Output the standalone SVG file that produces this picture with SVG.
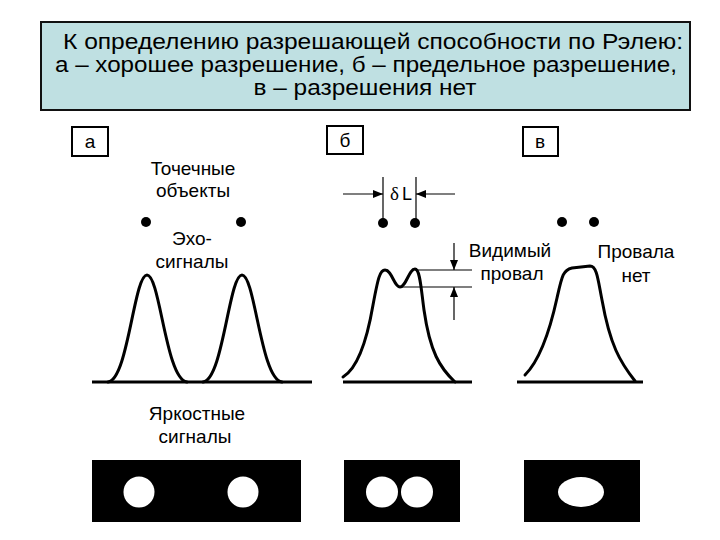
<svg xmlns="http://www.w3.org/2000/svg" width="720" height="540" viewBox="0 0 720 540">
<style>
  text { font-family: "Liberation Sans", Arial, sans-serif; fill: #000; }
  .title { font-size: 22px; text-anchor: middle; }
  .lbl { font-size: 19px; text-anchor: middle; }
  .box { fill: #fff; stroke: #000; stroke-width: 2; }
  .curve { fill: none; stroke: #000; stroke-width: 3; stroke-linejoin: round; stroke-linecap: round; }
  .base { stroke: #000; stroke-width: 3; }
  .thin { stroke: #000; stroke-width: 1.2; fill: none; }
  .dot { fill: #000; }
  .screen { fill: #000; }
  .spot { fill: #fff; }
</style>
<defs>
  <marker id="arr" markerUnits="userSpaceOnUse" markerWidth="10" markerHeight="8" refX="10" refY="4" orient="auto">
    <path d="M0,0 L10,4 L0,8 z" fill="#000"/>
  </marker>
</defs>
<rect width="720" height="540" fill="#fff"/>

<g id="title">
  <rect x="41" y="22" width="649" height="88" fill="#bfe0e2" stroke="#111" stroke-width="2"/>
  <text class="title" x="373" y="49" textLength="620" lengthAdjust="spacingAndGlyphs">К определению разрешающей способности по Рэлею:</text>
  <text class="title" x="366" y="72" textLength="622" lengthAdjust="spacingAndGlyphs">а – хорошее разрешение, б – предельное разрешение,</text>
  <text class="title" x="365" y="95" textLength="223" lengthAdjust="spacingAndGlyphs">в – разрешения нет</text>
</g>

<g id="label-a">
  <rect class="box" x="72" y="127" width="36" height="29"/>
  <text class="lbl" x="90" y="148">а</text>
</g>
<g id="label-b">
  <rect class="box" x="327" y="126" width="36" height="28"/>
  <text class="lbl" x="345" y="147">б</text>
</g>
<g id="label-v">
  <rect class="box" x="523" y="127" width="35" height="29"/>
  <text class="lbl" x="540" y="148">в</text>
</g>

<g id="panel-a">
  <text class="lbl" x="193" y="175">Точечные</text>
  <text class="lbl" x="193" y="197">объекты</text>
  <circle class="dot" cx="146" cy="222" r="5"/>
  <circle class="dot" cx="241" cy="222" r="5"/>
  <text class="lbl" x="192" y="245">Эхо-</text>
  <text class="lbl" x="192" y="268">сигналы</text>
  <path class="curve" d="M108,382 C128,380 134,275 147,275 C160,275 166,380 187,382"/>
  <path class="curve" d="M203,382 C223,380 229,275 242,275 C255,275 261,380 282,382"/>
  <line class="base" x1="92" y1="382" x2="312" y2="382"/>
  <text class="lbl" x="197" y="420">Яркостные</text>
  <text class="lbl" x="195" y="443">сигналы</text>
  <rect class="screen" x="92" y="460" width="209" height="62"/>
  <circle class="spot" cx="139" cy="492" r="15.5"/>
  <circle class="spot" cx="243" cy="492" r="15.5"/>
</g>

<g id="panel-b">
  <circle class="dot" cx="383" cy="223" r="5"/>
  <circle class="dot" cx="415" cy="223" r="5"/>
  <text x="390" y="200" style="font-family:'Liberation Serif','Times New Roman',serif;font-size:19px">δ</text>
  <text x="402" y="200" style="font-size:18px">L</text>
  <path class="curve" d="M343,377 C358,368 367,340 373,305 C378,278 380,270 385,270 C392,270 394,287 400,287 C406,287 409,269 415,269 C420,269 421,288 424,310 C430,352 440,368 455,382"/>
  <line class="base" x1="343" y1="382" x2="472" y2="382"/>
  <text class="lbl" x="510" y="257">Видимый</text>
  <text class="lbl" x="512" y="280">провал</text>
  <rect class="screen" x="344" y="460" width="116" height="62"/>
  <ellipse class="spot" cx="382" cy="492" rx="16" ry="15.5"/>
  <ellipse class="spot" cx="417" cy="492" rx="16" ry="15.5"/>
</g>

<g id="panel-v">
  <circle class="dot" cx="562" cy="222" r="5"/>
  <circle class="dot" cx="594" cy="222" r="5"/>
  <path class="curve" d="M525,375 C540,360 550,330 557,298 C562,276 563,270 572,268 L590,266 C597,266 598,280 602,300 C610,345 620,362 635,381"/>
  <line class="base" x1="517" y1="382" x2="643" y2="382"/>
  <text class="lbl" x="636" y="258">Провала</text>
  <text class="lbl" x="636" y="282">нет</text>
  <rect class="screen" x="524" y="460" width="116" height="62"/>
  <ellipse class="spot" cx="581" cy="492" rx="23" ry="15"/>
</g>

<g id="connectors">
  <line class="thin" x1="383" y1="177" x2="383" y2="222"/>
  <line class="thin" x1="416" y1="177" x2="416" y2="222"/>
  <line class="thin" x1="343" y1="194" x2="383" y2="194" marker-end="url(#arr)"/>
  <line class="thin" x1="455" y1="194" x2="416" y2="194" marker-end="url(#arr)"/>
  <line class="thin" x1="415" y1="270" x2="472" y2="270"/>
  <line class="thin" x1="400" y1="287" x2="472" y2="287"/>
  <line class="thin" x1="454" y1="243" x2="454" y2="270" marker-end="url(#arr)"/>
  <line class="thin" x1="454" y1="320" x2="454" y2="287" marker-end="url(#arr)"/>
</g>
</svg>
